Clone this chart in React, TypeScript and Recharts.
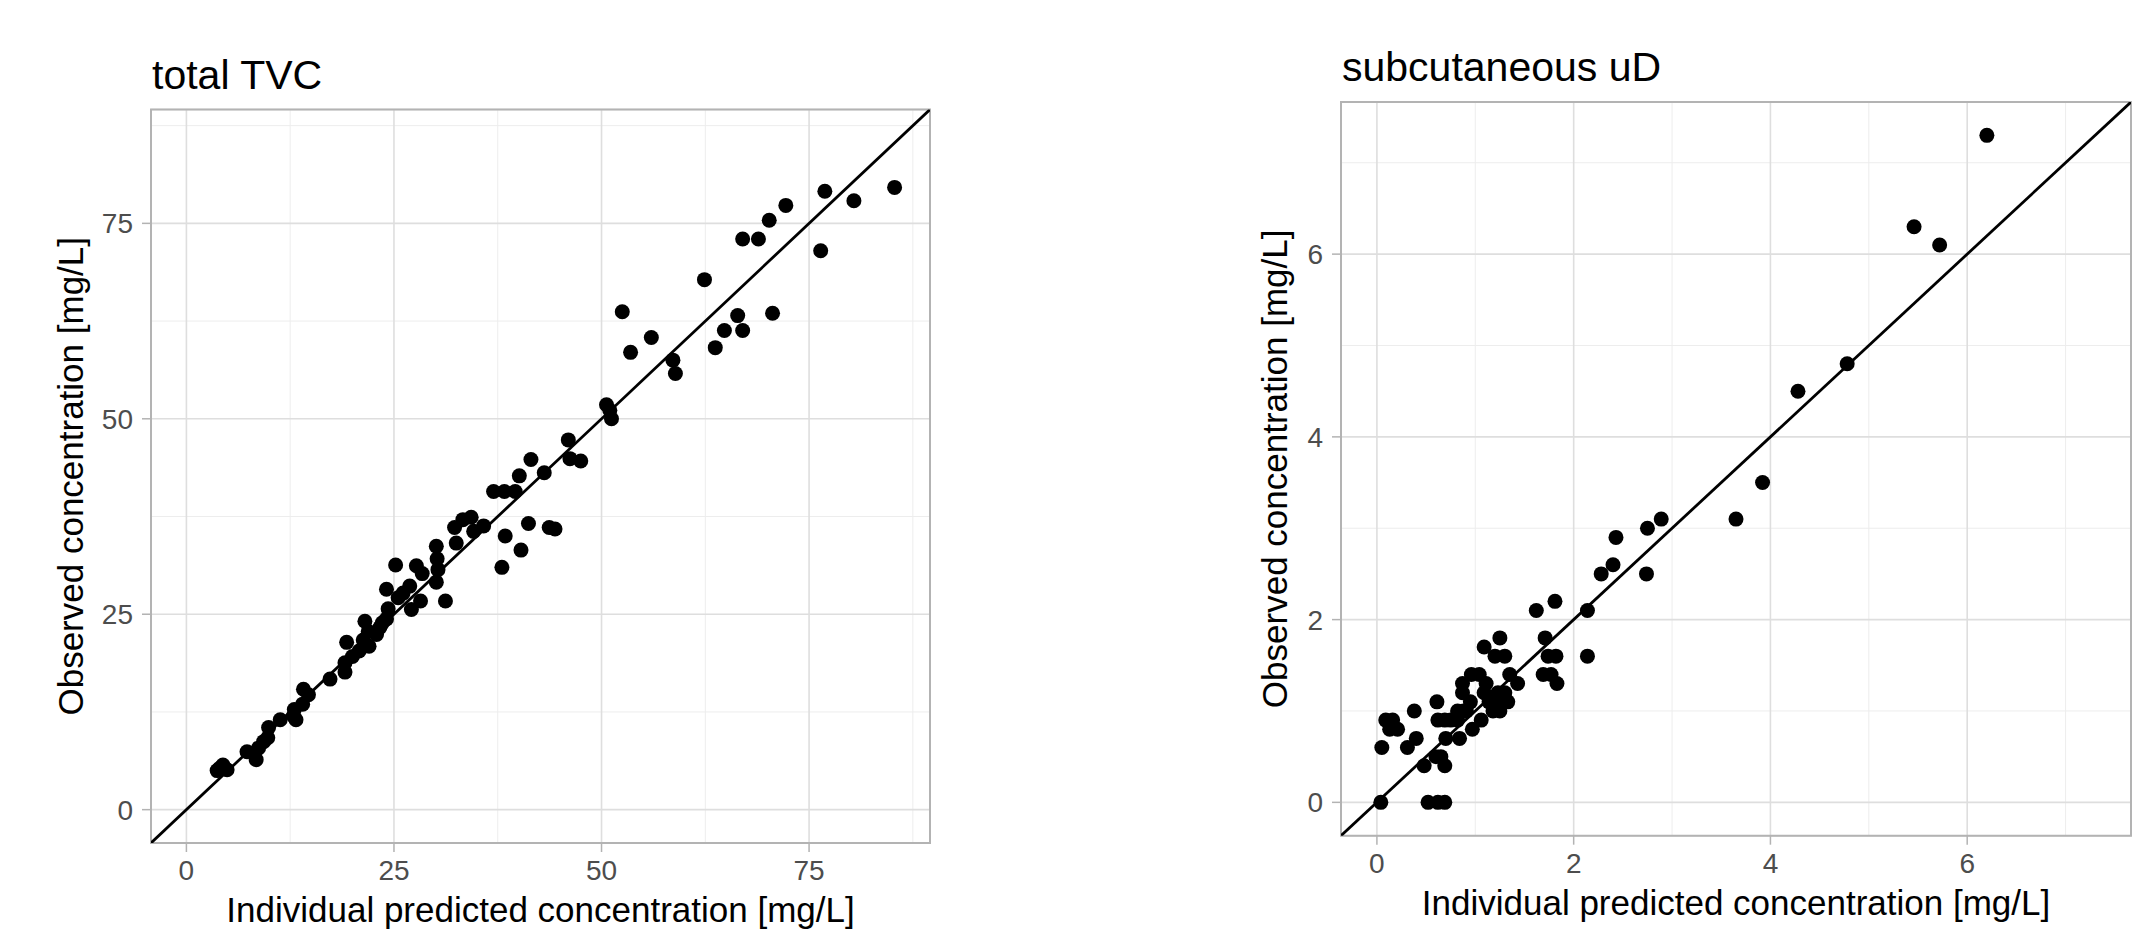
import { ScatterChart, Scatter, XAxis, YAxis, CartesianGrid, ReferenceLine, ReferenceArea } from 'recharts';

// total TVC: individual predicted vs observed (mg/L)
const tvcPred = [3.7, 4.0, 4.4, 4.9, 7.3, 8.4, 8.7, 9.3, 9.8, 9.9, 11.3, 12.9, 13.0, 13.2, 14.0, 14.1, 14.7, 17.3, 19.1, 19.1, 19.3, 20.0, 20.8, 21.3, 21.5, 22.0, 21.9, 22.9, 23.3, 23.6, 24.1, 24.3, 24.1, 25.2, 25.5, 26.1, 26.9, 27.1, 27.7, 28.2, 28.4, 30.1, 30.3, 30.2, 30.1, 31.2, 32.3, 32.5, 33.3, 34.3, 34.6, 35.8, 37.0, 38.3, 39.6, 38.0, 38.4, 40.1, 40.3, 41.2, 41.5, 43.1, 43.7, 44.4, 46.0, 46.2, 47.5, 50.6, 51.0, 51.2, 52.5, 53.5, 56.0, 58.6, 58.9, 62.4, 63.7, 64.8, 66.4, 67.0, 67.0, 68.9, 70.2, 70.6, 72.2, 76.4, 76.9, 80.4, 85.3];
const tvcObs = [5.0, 5.3, 5.7, 5.1, 7.4, 6.4, 7.9, 8.7, 9.2, 10.5, 11.5, 12.0, 12.8, 11.5, 13.5, 15.4, 14.7, 16.7, 17.6, 18.8, 21.4, 19.6, 20.3, 21.7, 24.1, 20.9, 22.8, 22.4, 23.3, 23.9, 24.4, 25.7, 28.2, 31.3, 27.1, 27.7, 28.6, 25.6, 31.2, 26.7, 30.2, 29.1, 30.7, 32.1, 33.7, 26.7, 36.1, 34.1, 37.1, 37.4, 35.6, 36.3, 40.7, 40.7, 40.7, 31.0, 35.0, 42.7, 33.2, 36.6, 44.8, 43.1, 36.1, 35.9, 47.3, 44.9, 44.6, 51.8, 51.1, 50.0, 63.7, 58.5, 60.4, 57.5, 55.8, 67.8, 59.1, 61.3, 63.2, 61.3, 73.0, 73.0, 75.4, 63.5, 77.3, 71.5, 79.1, 77.9, 79.6];
const tvcTicks = [0, 25, 50, 75];
const tvcMinor = [12.5, 37.5, 62.5, 87.5];
const tvcLimits = [0, 85.3];

// subcutaneous uD
const sucPred = [0.04, 0.52, 0.62, 0.69, 0.05, 0.31, 0.40, 0.38, 0.09, 0.16, 0.13, 0.21, 0.48, 0.60, 0.65, 0.69, 0.61, 0.62, 0.69, 0.75, 0.82, 0.70, 0.84, 0.82, 0.88, 0.97, 1.06, 0.87, 0.87, 0.96, 1.04, 1.11, 1.09, 0.95, 1.23, 1.30, 1.19, 1.26, 1.33, 1.18, 1.25, 1.35, 1.43, 1.09, 1.25, 1.20, 1.30, 1.62, 1.81, 1.71, 1.74, 1.82, 1.69, 1.77, 1.83, 2.14, 2.14, 2.28, 2.40, 2.74, 2.43, 2.75, 2.89, 3.65, 3.92, 4.28, 4.78, 5.46, 5.72, 6.20, 0.91, 1.14];
const sucObs = [0, 0, 0, 0, 0.6, 0.6, 0.7, 1.0, 0.9, 0.9, 0.8, 0.8, 0.4, 0.5, 0.5, 0.4, 1.1, 0.9, 0.9, 0.9, 0.9, 0.7, 0.7, 1.0, 1.0, 0.8, 0.9, 1.3, 1.2, 1.4, 1.4, 1.3, 1.2, 1.1, 1.2, 1.2, 1.1, 1.1, 1.1, 1.0, 1.0, 1.4, 1.3, 1.7, 1.8, 1.6, 1.6, 2.1, 2.2, 1.8, 1.6, 1.6, 1.4, 1.4, 1.3, 2.1, 1.6, 2.5, 2.6, 2.5, 2.9, 3.0, 3.1, 3.1, 3.5, 4.5, 4.8, 6.3, 6.1, 7.3, 1.0, 1.1];
const sucTicks = [0, 2, 4, 6];
const sucMinor = [1, 3, 5, 7];
const sucLimits = [0, 7.3];

const FONT = '"Liberation Sans", Arial, sans-serif';

function expand([a, b]: number[]) {
  const pad = (b - a) * 0.05;
  return [a - pad, b + pad];
}

function Panel(props: any) {
  const { title, pred, obs, ticks, minor, limits, left, width, margin, yWidth, xHeight, yTitleX } = props;
  const data = pred.map((x: number, i: number) => ({ x, y: obs[i] }));
  const [lo, hi] = expand(limits);
  const tickStyle = { fontSize: 28, fill: '#4D4D4D', fontFamily: FONT };
  const tickLine = { stroke: '#B3B3B3', strokeWidth: 1.5 };

  const xTitle = ({ viewBox }: any) => (
    <text x={viewBox.x + viewBox.width / 2} y={viewBox.y + 79} textAnchor="middle" fontSize={35} fill="#000" fontFamily={FONT}>
      Individual predicted concentration [mg/L]
    </text>
  );
  const yTitle = ({ viewBox }: any) => {
    const cx = viewBox.x + viewBox.width - yTitleX;
    const cy = viewBox.y + viewBox.height / 2;
    return (
      <g>
        <text x={cx} y={cy} transform={`rotate(-90, ${cx}, ${cy})`} textAnchor="middle" fontSize={35} fill="#000" fontFamily={FONT}>
          Observed concentration [mg/L]
        </text>
        <text x={viewBox.x + viewBox.width + 1} y={viewBox.y - 21} fontSize={41} fill="#000" fontFamily={FONT}>
          {title}
        </text>
      </g>
    );
  };

  return (
    <div style={{ position: 'absolute', left, top: 0 }}>
      <ScatterChart width={width} height={934} margin={margin}>
        <CartesianGrid verticalValues={minor} horizontalValues={minor} stroke="#EDEDED" strokeWidth={1} />
        <CartesianGrid stroke="#DEDEDE" strokeWidth={1.6} />
        <XAxis type="number" dataKey="x" domain={[lo, hi]} allowDataOverflow ticks={ticks} height={xHeight}
          axisLine={false} tickLine={tickLine} tickSize={9} tickMargin={8} tick={tickStyle} interval={0}
          label={{ content: xTitle }} />
        <YAxis type="number" dataKey="y" domain={[lo, hi]} allowDataOverflow ticks={ticks} width={yWidth}
          axisLine={false} tickLine={tickLine} tickSize={9} tickMargin={9} tick={tickStyle} interval={0}
          label={{ content: yTitle }} />
        <Scatter data={data} isAnimationActive={false}
          shape={(p: any) => <circle cx={p.cx} cy={p.cy} r={7.5} fill="#000" />} />
        <ReferenceLine segment={[{ x: lo, y: lo }, { x: hi, y: hi }]} stroke="#000" strokeWidth={2.8} ifOverflow="hidden" />
        <ReferenceArea x1={lo} x2={hi} y1={lo} y2={hi} fill="none" stroke="#B3B3B3" strokeWidth={2} ifOverflow="visible" />
      </ScatterChart>
    </div>
  );
}

export default function App() {
  return (
    <div style={{ position: 'absolute', left: 0, top: 0, width: 2151, height: 934, background: '#fff', fontFamily: FONT }}>
      <Panel title="total TVC" pred={tvcPred} obs={tvcObs} ticks={tvcTicks} minor={tvcMinor} limits={tvcLimits}
        left={0} width={1000} margin={{ top: 109.5, right: 70, bottom: 0, left: 0 }} yWidth={151} xHeight={91} yTitleX={68} />
      <Panel title="subcutaneous uD" pred={sucPred} obs={sucObs} ticks={sucTicks} minor={sucMinor} limits={sucLimits}
        left={1150} width={1001} margin={{ top: 102, right: 20, bottom: 0, left: 0 }} yWidth={191} xHeight={98.3} yTitleX={54} />
    </div>
  );
}
